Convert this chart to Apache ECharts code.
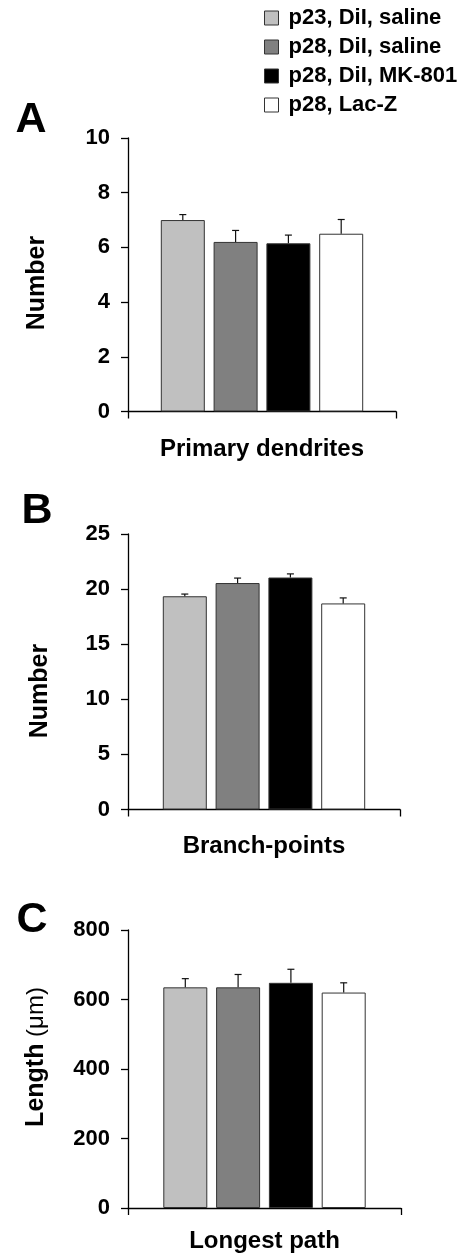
<!DOCTYPE html>
<html><head><meta charset="utf-8">
<script src="https://cdn.jsdelivr.net/npm/echarts@6/dist/echarts.min.js"></script>
<style>html,body{margin:0;padding:0;background:#fff}#c{width:471px;height:1254px}</style>
</head><body><div id="c"></div>
<script>
// ---- data ----
const groups = ['p23, DiI, saline', 'p28, DiI, saline', 'p28, DiI, MK-801', 'p28, Lac-Z'];
const panelLetters = ['A', 'B', 'C'];
const xTitles = ['Primary dendrites', 'Branch-points', 'Longest path'];
const dendriteMeans = [7.0, 6.2, 6.15, 6.5];
const dendriteErrors = [0.2, 0.42, 0.3, 0.52];
const branchMeans = [19.35, 20.55, 21.05, 18.7];
const branchErrors = [0.2, 0.45, 0.33, 0.5];
const pathMeans = [635, 635, 648, 620];
const pathErrors = [25, 37, 39, 28];
const yMaxes = [10, 25, 800];
const yIntervals = [2, 5, 200];

// ---- style ----
const FONT = '"Liberation Sans", Arial, Helvetica, sans-serif';
const colors = ['#c0c0c0', '#808080', '#000000', '#ffffff'];
const BAR_W = 44, GAP = 0.2, CAP = 3.5;
const grids = [
  {left: 128, top: 138, width: 268, height: 273.5},
  {left: 128, top: 534, width: 272, height: 275.5},
  {left: 128, top: 930, width: 273, height: 278}
];
const nameGaps = [26, 25, 21];
const means = [dendriteMeans, branchMeans, pathMeans];
const errs = [dendriteErrors, branchErrors, pathErrors];

const chart = echarts.init(document.getElementById('c'), null, {renderer: 'canvas'});

function errRender(params, api) {
  const gi = api.value(3);
  const m = api.value(1), e = api.value(2);
  const b = api.coord([0, m]);
  const t = api.coord([0, m + e]);
  const x = b[0] + (gi - 1.5) * BAR_W * (1 + GAP);
  return {type: 'group', children: [
    {type: 'line', shape: {x1: x, y1: b[1], x2: x, y2: t[1]}, style: {stroke: '#111', lineWidth: 1.2}},
    {type: 'line', shape: {x1: x - CAP, y1: t[1], x2: x + CAP, y2: t[1]}, style: {stroke: '#111', lineWidth: 1.2}}
  ]};
}

const xAxes = [], yAxes = [], series = [];
for (let p = 0; p < 3; p++) {
  xAxes.push({
    type: 'category', gridIndex: p, data: [''],
    axisLine: {lineStyle: {color: '#000', width: 1.3}},
    axisTick: {show: true, length: 7, lineStyle: {color: '#000', width: 1.3}},
    axisLabel: {show: false},
    splitLine: {show: false},
    name: xTitles[p], nameLocation: 'middle', nameGap: nameGaps[p],
    nameTextStyle: {fontFamily: FONT, fontSize: 24, fontWeight: 'bold', color: '#000'}
  });
  yAxes.push({
    type: 'value', gridIndex: p, min: 0, max: yMaxes[p], interval: yIntervals[p],
    axisLine: {show: true, lineStyle: {color: '#000', width: 1.3}},
    axisTick: {show: true, length: 7, lineStyle: {color: '#000', width: 1.3}},
    axisLabel: {fontFamily: FONT, fontSize: 22, fontWeight: 'bold', color: '#000', margin: 18},
    splitLine: {show: false}
  });
  for (let g = 0; g < 4; g++) {
    series.push({
      type: 'bar', name: groups[g], xAxisIndex: p, yAxisIndex: p,
      data: [means[p][g]], barWidth: BAR_W, barGap: (GAP * 100) + '%',
      itemStyle: {color: colors[g], borderColor: '#333', borderWidth: 1},
      emphasis: {disabled: true}, z: 2
    });
  }
  series.push({
    type: 'custom', xAxisIndex: p, yAxisIndex: p, renderItem: errRender,
    encode: {x: 0, y: 1}, z: 3,
    data: means[p].map((m, g) => [0, m, errs[p][g], g])
  });
}

const graphics = [
  {type: 'text', x: 31, y: 120, style: {text: panelLetters[0], font: 'bold 43px ' + FONT, fill: '#000', align: 'center', verticalAlign: 'middle'}},
  {type: 'text', x: 37, y: 511, style: {text: panelLetters[1], font: 'bold 43px ' + FONT, fill: '#000', align: 'center', verticalAlign: 'middle'}},
  {type: 'text', x: 32, y: 920, style: {text: panelLetters[2], font: 'bold 43px ' + FONT, fill: '#000', align: 'center', verticalAlign: 'middle'}},
  {type: 'text', x: 37, y: 283, rotation: Math.PI / 2, style: {text: 'Number', font: 'bold 25px ' + FONT, fill: '#000', align: 'center', verticalAlign: 'middle'}},
  {type: 'text', x: 40, y: 691, rotation: Math.PI / 2, style: {text: 'Number', font: 'bold 25px ' + FONT, fill: '#000', align: 'center', verticalAlign: 'middle'}},
  {type: 'text', x: 36, y: 1057, rotation: Math.PI / 2, style: {
    text: '{b|Length}  {r|(μm)}', align: 'center', verticalAlign: 'middle',
    rich: {b: {fontFamily: FONT, fontSize: 25, fontWeight: 'bold', fill: '#000', color: '#000'},
           r: {fontFamily: FONT, fontSize: 24, fontWeight: 'normal', fill: '#000', color: '#000'}}
  }}
];

chart.setOption({
  backgroundColor: '#fff',
  animation: false,
  grid: grids.map(g => Object.assign({outerBoundsMode: 'none', containLabel: false}, g)),
  legend: {
    orient: 'vertical', left: 264, top: 7, padding: 0,
    itemWidth: 14, itemHeight: 14, itemGap: 7, icon: 'rect',
    itemStyle: {borderColor: '#333', borderWidth: 1},
    textStyle: {fontFamily: FONT, fontSize: 22, fontWeight: 'bold', color: '#000', lineHeight: 22, padding: [0, 0, 0, 5]},
    data: groups, selectedMode: false
  },
  xAxis: xAxes, yAxis: yAxes, series: series, graphic: graphics
});
</script></body></html>
